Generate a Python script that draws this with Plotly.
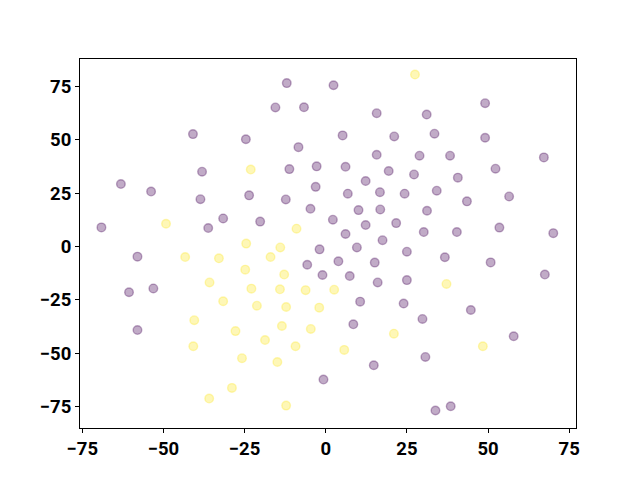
import plotly.graph_objects as go

# Class 0 (purple) points
x0 = [-12.0, -15.5, -6.7, -40.9, -24.6, -8.4, -38.1, -11.2, -2.8, -63.1,
      -53.8, -38.6, -23.6, -12.3, -3.1, -4.7, -69.1, -36.2, -31.6, -20.2,
      -1.9, 2.4, 49.1, 15.7, 31.1, 5.2, 21.1, 33.5, 49.1, 15.7,
      28.9, 38.3, 67.2, 6.1, 19.4, 27.2, 40.7, 52.3, 12.3, 6.8,
      16.7, 24.3, 34.2, 43.5, 56.5, 10.1, 16.8, 31.2, 2.2, 12.3,
      21.7, 6.1, 17.5, 30.2, 40.4, 53.5, 70.1, 9.6, 25.0, 36.7,
      50.8, 3.9, 15.1, 67.5, 7.4, 16.0, 25.0, 10.6, 24.0, 44.7,
      29.8, 8.5, 57.9, 30.7, 14.8, 33.8, 38.5, -58.0, -5.7, -1.0,
      -60.6, -53.1, -58.0, -0.7]
y0 = [76.5, 65.1, 65.2, 52.6, 50.2, 46.5, 35.0, 36.2, 37.5, 29.2,
      25.7, 22.1, 23.9, 22.0, 27.9, 17.6, 8.9, 8.6, 13.1, 11.6,
      -1.4, 75.5, 67.1, 62.4, 61.8, 52.0, 51.5, 52.8, 50.9, 42.9,
      42.5, 42.5, 41.7, 37.3, 35.3, 33.7, 32.2, 36.4, 30.6, 24.7,
      25.4, 24.7, 26.1, 21.1, 23.4, 17.0, 17.3, 16.7, 12.5, 10.0,
      10.9, 5.8, 2.9, 6.7, 6.7, 8.8, 6.2, -0.5, -2.5, -5.1,
      -7.5, -7.0, -7.6, -13.2, -13.9, -16.9, -15.8, -25.9, -26.8, -29.8,
      -34.0, -36.5, -42.1, -51.8, -55.7, -76.9, -74.9, -4.8, -8.6, -13.4,
      -21.5, -19.7, -39.2, -62.4]

# Class 1 (yellow) points
x1 = [-23.1, -49.2, -9.0, -24.5, -14.0, 27.5, 37.2, 2.6, 21.0, 5.7,
      48.4, -43.3, -32.9, -17.0, -24.8, -12.8, -35.8, -22.9, -14.1, -6.2,
      -31.6, -21.2, -12.2, -2.0, -40.5, -27.8, -13.5, -4.6, -18.7, -9.3,
      -40.8, -25.8, -14.9, -28.9, -35.9, -12.2]
y1 = [36.0, 10.6, 8.3, 1.3, -0.5, 80.5, -17.6, -20.3, -40.9, -48.5,
      -46.8, -5.0, -5.6, -5.0, -10.9, -13.2, -16.9, -19.8, -20.1, -20.5,
      -25.7, -27.8, -28.4, -28.7, -34.6, -39.7, -37.3, -38.7, -43.9, -46.8,
      -46.8, -52.4, -54.2, -66.3, -71.3, -74.6]

x_ticks = [-75, -50, -25, 0, 25, 50, 75]
y_ticks = [-75, -50, -25, 0, 25, 50, 75]

fig = go.Figure()
for xs, ys, rgb in [(x0, y0, "68,1,84"), (x1, y1, "253,231,37")]:
    fig.add_trace(go.Scatter(
        x=xs, y=ys, mode="markers",
        marker=dict(size=8.6, color=f"rgba({rgb},0.33)",
                    line=dict(width=1.4, color=f"rgba({rgb},0.33)")),
        showlegend=False, hoverinfo="skip"))

axis_common = dict(showgrid=False, zeroline=False, showline=True, mirror=True,
                   linecolor="black", linewidth=1, ticks="outside", ticklen=4,
                   tickwidth=1, tickcolor="black",
                   tickfont=dict(family="Roboto", size=18.5, color="black", weight="bold"))

fig.update_layout(
    width=640, height=480,
    margin=dict(l=72, r=72, t=50.5, b=60.3, autoexpand=False),
    paper_bgcolor="white", plot_bgcolor="white",
    xaxis=dict(range=[-75.7, 77.1], tickvals=x_ticks,
               ticktext=[str(v).replace("-", "\u2212") for v in x_ticks], **axis_common),
    yaxis=dict(range=[-85.1, 87.8], tickvals=y_ticks,
               ticktext=[str(v).replace("-", "\u2212") for v in y_ticks], **axis_common),
)

fig.write_html("out.html")
